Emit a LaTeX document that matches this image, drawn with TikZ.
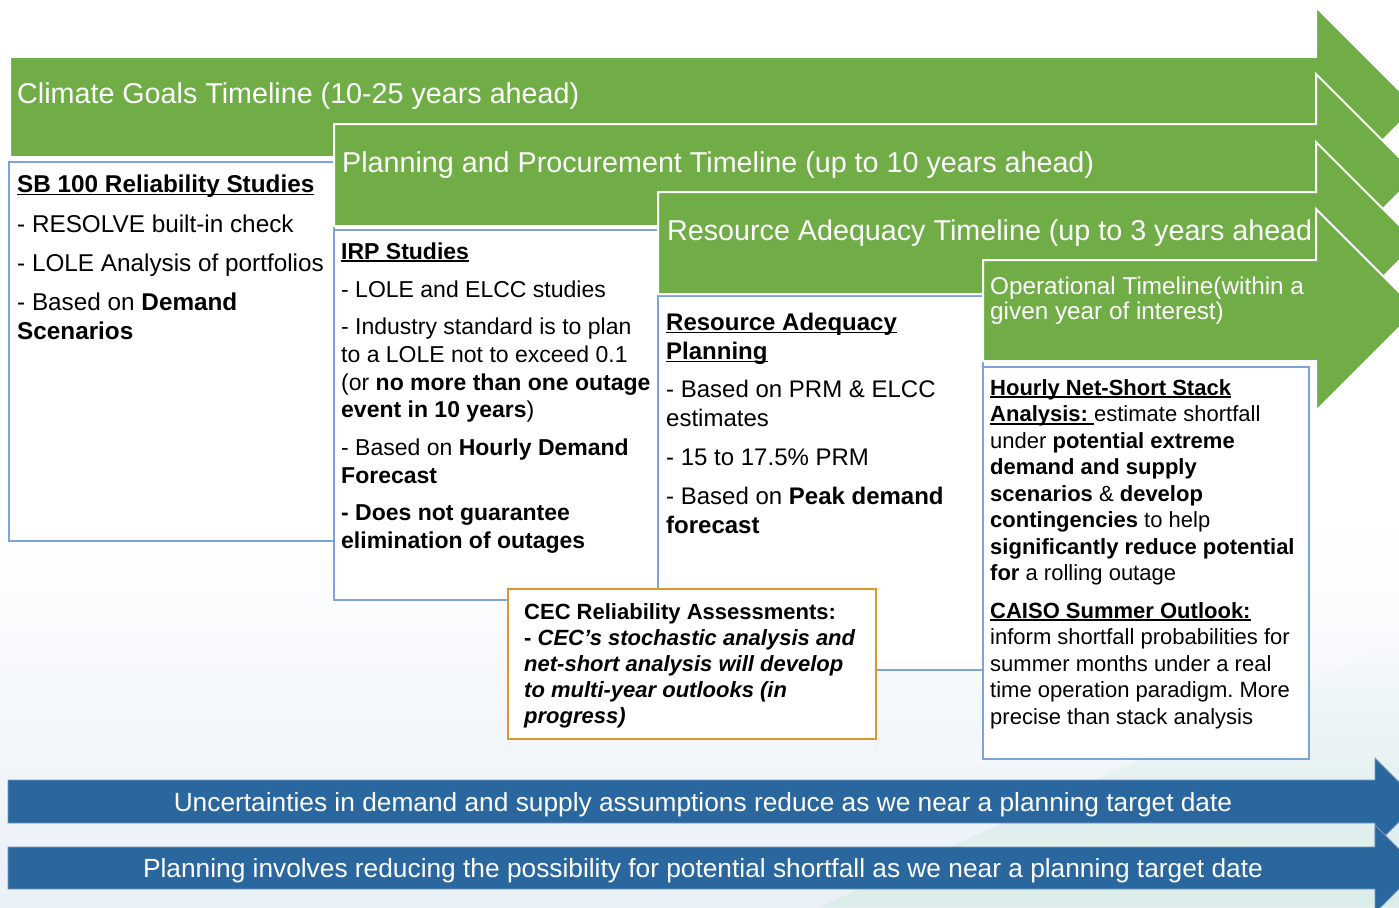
\documentclass[tikz,border=0pt]{standalone}
\usepackage{fontspec}
\setmainfont{Liberation Sans}
\usetikzlibrary{fadings}
\frenchspacing

\definecolor{arrowgreen}{HTML}{70AD47}
\definecolor{barblue}{HTML}{2A679F}
\definecolor{baredge}{HTML}{7A98BC}
\definecolor{boxblue}{HTML}{7DA4D8}
\definecolor{cecorange}{HTML}{D9982B}
\definecolor{bgblue}{HTML}{E9F0F7}
\definecolor{bgmint}{HTML}{D6EDE4}

% underline drawn just below the baseline, spanning the whole box
\newcommand\ulin[1]{\setbox0=\hbox{#1}\rlap{\rule[-0.14em]{\wd0}{0.075em}}\box0}
\newcommand\fsz[1]{\fontsize{#1}{#1}\selectfont}

\tikzfading[name=mintfade, top color=transparent!100, bottom color=transparent!25]

\tikzset{
  boxframe/.style={fill=white, draw=boxblue, line width=1.8pt},
  cecframe/.style={fill=white, draw=cecorange, line width=2pt},
  greenarrow/.style={fill=arrowgreen, draw=white, line width=2pt, line join=miter},
  bluearrow/.style={fill=barblue, draw=baredge, line width=0.9pt},
  txtline/.style={anchor=base west, inner sep=0pt, text=black},
  sbtxt/.style={txtline, font=\fsz{24.3}},
  irptxt/.style={txtline, font=\fsz{23}},
  ratxt/.style={txtline, font=\fsz{24}},
  optxt/.style={txtline, font=\fsz{22}},
  cectxt/.style={txtline, font=\fsz{22}},
  gtitle/.style={anchor=base west, inner sep=0pt, text=white, font=\fsz{28.7}},
  otitle/.style={anchor=base west, inner sep=0pt, text=white, font=\fsz{24.3}},
  bartxt/.style={anchor=base, inner sep=0pt, text=white, font=\fsz{26.3}},
}

\begin{document}
\begin{tikzpicture}[x=1pt,y=-1pt]
\useasboundingbox (0,0) rectangle (1399,907);
\clip (0,0) rectangle (1399,907);

% soft background towards the bottom
\fill[white] (0,0) rectangle (1399,907);
\shade[top color=white, bottom color=bgblue] (0,520) rectangle (1399,907);
\fill[bgmint, path fading=mintfade] (820,907) -- (1399,640) -- (1399,907) -- cycle;

% study boxes
\filldraw[boxframe] (9,162) rectangle (334,541);
\filldraw[boxframe] (334,230) rectangle (658,600);
\filldraw[boxframe] (658,296) rectangle (983,670);
\filldraw[boxframe] (983,367) rectangle (1309,759);
\filldraw[cecframe] (508,589) rectangle (876,739);

% SB 100 box
\node[sbtxt] (sb1) at (17,192) {\textbf{\ulin{SB 100 Reliability Studies}}};
\node[sbtxt] (sb2) at (17,232) {- RESOLVE built-in check};
\node[sbtxt] (sb3) at (17,271) {- LOLE Analysis of portfolios};
\node[sbtxt] (sb4) at (17,310) {- Based on \textbf{Demand}};
\node[sbtxt] (sb5) at (17,339) {\textbf{Scenarios}};

% IRP box
\node[irptxt] (irp1) at (341,259) {\textbf{\ulin{IRP Studies}}};
\node[irptxt] (irp2) at (341,297) {- LOLE and ELCC studies};
\node[irptxt] (irp3) at (341,334) {- Industry standard is to plan};
\node[irptxt] (irp4) at (341,362) {to a LOLE not to exceed 0.1};
\node[irptxt] (irp5) at (341,390) {(or \textbf{no more than one outage}};
\node[irptxt] (irp6) at (341,417) {\textbf{event in 10 years})};
\node[irptxt] (irp7) at (341,455) {- Based on \textbf{Hourly Demand}};
\node[irptxt] (irp8) at (341,483) {\textbf{Forecast}};
\node[irptxt] (irp9) at (341,520) {\textbf{- Does not guarantee}};
\node[irptxt] (irp10) at (341,548) {\textbf{elimination of outages}};

% Resource adequacy box
\node[ratxt] (ra1) at (666,330) {\textbf{\ulin{Resource Adequacy}}};
\node[ratxt] (ra2) at (666,359) {\textbf{\ulin{Planning}}};
\node[ratxt] (ra3) at (666,397) {- Based on PRM \& ELCC};
\node[ratxt] (ra4) at (666,426) {estimates};
\node[ratxt] (ra5) at (666,465) {- 15 to 17.5\% PRM};
\node[ratxt] (ra6) at (666,504) {- Based on \textbf{Peak demand}};
\node[ratxt] (ra7) at (666,533) {\textbf{forecast}};

% operational box
\node[optxt] (op1) at (990,395) {\textbf{\ulin{Hourly Net-Short Stack}}};
\node[optxt] (op2) at (990,421.5) {\textbf{\ulin{Analysis:\ }}estimate shortfall};
\node[optxt] (op3) at (990,448) {under \textbf{potential extreme}};
\node[optxt] (op4) at (990,474.5) {\textbf{demand and supply}};
\node[optxt] (op5) at (990,501) {\textbf{scenarios} \& \textbf{develop}};
\node[optxt] (op6) at (990,527.5) {\textbf{contingencies} to help};
\node[optxt] (op7) at (990,554) {\textbf{significantly reduce potential}};
\node[optxt] (op8) at (990,580.5) {\textbf{for} a rolling outage};
\node[optxt] (op9) at (990,618) {\textbf{\ulin{CAISO Summer Outlook:}}};
\node[optxt] (op10) at (990,644.5) {inform shortfall probabilities for};
\node[optxt] (op11) at (990,671) {summer months under a real};
\node[optxt] (op12) at (990,697.5) {time operation paradigm. More};
\node[optxt] (op13) at (990,724) {precise than stack analysis};

% CEC box
\node[cectxt] (cec1) at (524,619) {\textbf{CEC Reliability Assessments:}};
\node[cectxt] (cec2) at (524,645) {\textbf{- \textit{CEC’s stochastic analysis and}}};
\node[cectxt] (cec3) at (524,671) {\textbf{\textit{net-short analysis will develop}}};
\node[cectxt] (cec4) at (524,697) {\textbf{\textit{to multi-year outlooks (in}}};
\node[cectxt] (cec5) at (524,723) {\textbf{\textit{progress)}}};

% timeline arrows, longest first
\filldraw[greenarrow] (10,57) -- (1316,57) -- (1316,7) -- (1416,107) -- (1316,207) -- (1316,157) -- (10,157) -- cycle;
\node[gtitle] (tclimate) at (17,103) {Climate Goals Timeline (10-25 years ahead)};

\filldraw[greenarrow] (334,124) -- (1316,124) -- (1316,74) -- (1417,175) -- (1316,276) -- (1316,226) -- (334,226) -- cycle;
\node[gtitle] (tplan) at (342,172) {Planning and Procurement Timeline (up to 10 years ahead)};

\filldraw[greenarrow] (658,192) -- (1316,192) -- (1316,142) -- (1417,243) -- (1316,344) -- (1316,294) -- (658,294) -- cycle;
\begin{scope}
  % the title runs past the arrow body and is cut at its end
  \clip (658,192) rectangle (1309.5,294);
  \node[gtitle] (tra) at (667,240) {Resource Adequacy Timeline (up to 3 years ahead)};
\end{scope}

\filldraw[greenarrow] (983,260) -- (1316,260) -- (1316,209) -- (1417,310) -- (1316,411) -- (1316,361) -- (983,361) -- cycle;
\node[otitle] (top1) at (990,294) {Operational Timeline(within a};
\node[otitle] (top2) at (990,319) {given year of interest)};

% bottom arrows
\filldraw[bluearrow] (8,780) -- (1375,780) -- (1375,758) -- (1419,802) -- (1375,846) -- (1375,823) -- (8,823) -- cycle;
\node[bartxt] (unc) at (703,811) {Uncertainties in demand and supply assumptions reduce as we near a planning target date};

\filldraw[bluearrow] (8,847) -- (1375,847) -- (1375,825) -- (1419,869) -- (1375,913) -- (1375,889) -- (8,889) -- cycle;
\node[bartxt] (plan) at (703,877) {Planning involves reducing the possibility for potential shortfall as we near a planning target date};
\end{tikzpicture}
\end{document}
